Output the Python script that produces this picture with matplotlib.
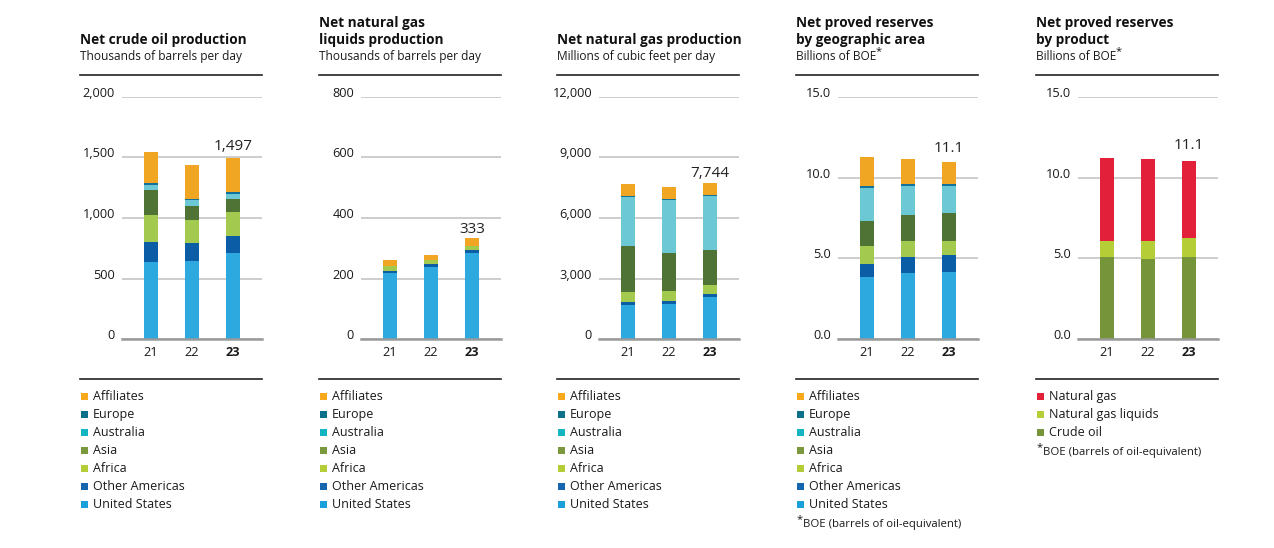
import matplotlib
matplotlib.use("Agg")
import matplotlib.pyplot as plt
from matplotlib.patches import Rectangle

plt.rcParams['font.family'] = ['Open Sans', 'DejaVu Sans']

# ---------------- data ----------------
years = ["21", "22", "23"]
regions = ["United States", "Other Americas", "Africa", "Asia", "Australia", "Europe", "Affiliates"]

crude_oil = {  # thousands of barrels per day
    "United States": [637, 648, 711],
    "Other Americas": [165, 146, 141],
    "Africa": [223, 189, 197],
    "Asia": [206, 119, 108],
    "Australia": [41, 46, 43],
    "Europe": [16, 9, 14],
    "Affiliates": [256, 280, 283],
}
ngl = {  # thousands of barrels per day
    "United States": [217, 237, 286],
    "Other Americas": [7, 10, 8],
    "Africa": [16, 16, 13],
    "Asia": [0, 0, 0],
    "Australia": [0, 0, 0],
    "Europe": [0, 0, 0],
    "Affiliates": [21, 16, 26],
}
nat_gas = {  # millions of cubic feet per day
    "United States": [1698, 1747, 2093],
    "Other Americas": [148, 148, 148],
    "Africa": [494, 495, 445],
    "Asia": [2275, 1878, 1731],
    "Australia": [2422, 2640, 2670],
    "Europe": [50, 15, 49],
    "Affiliates": [594, 609, 613],
}
reserves_geo = {  # billions of BOE
    "United States": [3.85, 4.09, 4.16],
    "Other Americas": [0.80, 0.99, 1.05],
    "Africa": [1.11, 0.99, 0.86],
    "Asia": [1.54, 1.60, 1.73],
    "Australia": [2.04, 1.80, 1.67],
    "Europe": [0.13, 0.12, 0.12],
    "Affiliates": [1.79, 1.54, 1.36],
}
products = ["Crude oil", "Natural gas liquids", "Natural gas"]
reserves_prod = {  # billions of BOE
    "Crude oil": [5.11, 4.99, 5.11],
    "Natural gas liquids": [0.99, 1.11, 1.17],
    "Natural gas": [5.13, 5.07, 4.76],
}

titles = [
    ["Net crude oil production"],
    ["Net natural gas", "liquids production"],
    ["Net natural gas production"],
    ["Net proved reserves", "by geographic area"],
    ["Net proved reserves", "by product"],
]
subtitles = ["Thousands of barrels per day", "Thousands of barrels per day",
             "Millions of cubic feet per day", "Billions of BOE", "Billions of BOE"]
y_ticks = [[0, 500, 1000, 1500, 2000], [0, 200, 400, 600, 800],
           [0, 3000, 6000, 9000, 12000], [0, 5, 10, 15], [0, 5, 10, 15]]
y_ticklabels = [["0", "500", "1,000", "1,500", "2,000"],
                ["0", "200", "400", "600", "800"],
                ["0", "3,000", "6,000", "9,000", "12,000"],
                ["0.0", "5.0", "10.0", "15.0"],
                ["0.0", "5.0", "10.0", "15.0"]]
value_labels = ["1,497", "333", "7,744", "11.1", "11.1"]
footnote = "BOE (barrels of oil-equivalent)"

# ---------------- styling ----------------
bar_colors = {
    "Affiliates": "#F0A623", "Europe": "#10729A", "Australia": "#6CC8D4",
    "Asia": "#4E7335", "Africa": "#A3C94F", "Other Americas": "#0B5EA5",
    "United States": "#2EA9E0",
    "Natural gas": "#E2203A", "Natural gas liquids": "#B5CD36", "Crude oil": "#76943A",
}
legend_colors = {
    "Affiliates": "#F7A81B", "Europe": "#0B7089", "Australia": "#13B5C1",
    "Asia": "#7B983C", "Africa": "#B4CC36", "Other Americas": "#1565AF",
    "United States": "#199FD9",
    "Natural gas": "#E2203A", "Natural gas liquids": "#B5CD36", "Crude oil": "#76943A",
}

W, H = 1274, 548
fig = plt.figure(figsize=(W / 100, H / 100), dpi=100)


def fx(x):
    return x / W


def fy(y):
    return 1 - y / H


panel_lefts = [80, 319, 557, 796, 1036]
panel_w = 182
datasets = [(crude_oil, regions), (ngl, regions), (nat_gas, regions),
            (reserves_geo, regions), (reserves_prod, products)]
label_offsets = [8, 5, 6, 10, 12]  # px above bar top
TXT = "#1a1a1a"

for i, L in enumerate(panel_lefts):
    data, order = datasets[i]
    y0, y1 = 339.3, 96.6
    ax = fig.add_axes([fx(L + 42), fy(y0), (panel_w - 42) / W, (y0 - y1) / H])
    ax.set_xlim(-0.707, 2.707)
    ax.set_ylim(0, y_ticks[i][-1])
    bottoms = [0.0] * len(years)
    for name in order:
        vals = data[name]
        ax.bar(range(len(years)), vals, width=0.34, bottom=bottoms,
               color=bar_colors[name], zorder=3, linewidth=0)
        bottoms = [b + v for b, v in zip(bottoms, vals)]
    # value label on latest year
    ax.annotate(value_labels[i], xy=(2, bottoms[2]), xytext=(0, label_offsets[i] * 0.72),
                textcoords="offset points", ha="center", va="baseline",
                fontsize=11, color="#222222")
    for s in ["top", "left", "right"]:
        ax.spines[s].set_visible(False)
    ax.spines["bottom"].set_color("#9a9a9a")
    ax.spines["bottom"].set_linewidth(1.8)
    ax.spines["bottom"].set_zorder(4)
    ax.set_yticks(y_ticks[i])
    ax.set_yticklabels(y_ticklabels[i])
    ax.yaxis.grid(True, color="#c0c0c0", linewidth=1.1, zorder=0)
    ax.set_axisbelow(True)
    ax.tick_params(axis="y", length=0, pad=5, labelsize=9.2, labelcolor=TXT)
    for lab in ax.get_yticklabels():
        lab.set_verticalalignment("baseline")
    ax.set_xticks(range(len(years)))
    ax.set_xticklabels(years)
    ax.tick_params(axis="x", length=0, pad=5, labelsize=9.2, labelcolor=TXT)
    ax.get_xticklabels()[-1].set_fontweight("bold")

    # titles
    lines = titles[i]
    for k, line in enumerate(lines):
        fig.text(fx(L), fy(43.8 - 17.3 * (len(lines) - 1 - k)), line, fontsize=9.8,
                 fontweight="bold", color="#111111", va="baseline", ha="left")
    st = fig.text(fx(L), fy(60), subtitles[i], fontsize=8.6, color=TXT,
                  va="baseline", ha="left")
    if i >= 3:
        ax.annotate("*", xy=(1, 1), xycoords=st, xytext=(-0.3, 2.5), textcoords="offset points",
                    ha="left", va="top", fontsize=8, color=TXT, annotation_clip=False)

    # header line and legend line
    fig.add_artist(plt.Line2D([fx(L), fx(L + panel_w)], [fy(75), fy(75)],
                              color="#222222", linewidth=1.2))
    fig.add_artist(plt.Line2D([fx(L), fx(L + panel_w)], [fy(379), fy(379)],
                              color="#222222", linewidth=1.2))

    # legend (top to bottom: reverse of stacking order)
    leg_items = list(reversed(order))
    for k, name in enumerate(leg_items):
        yc = 396 + 18 * k
        fig.add_artist(Rectangle((fx(L + 1), fy(yc + 3.5)), 7 / W, 7 / H,
                                 color=legend_colors[name], linewidth=0))
        fig.text(fx(L + 13), fy(yc + 4), name, fontsize=9, color=TXT,
                 va="baseline", ha="left")
    if i >= 3:
        yb = 396 + 18 * len(leg_items) + 5
        fig.text(fx(L + 1), fy(yb - 5), "*", fontsize=8, color=TXT, va="baseline", ha="left")
        fig.text(fx(L + 7), fy(yb), footnote, fontsize=8.2, color=TXT,
                 va="baseline", ha="left")

fig.savefig("out.png", dpi=100)
